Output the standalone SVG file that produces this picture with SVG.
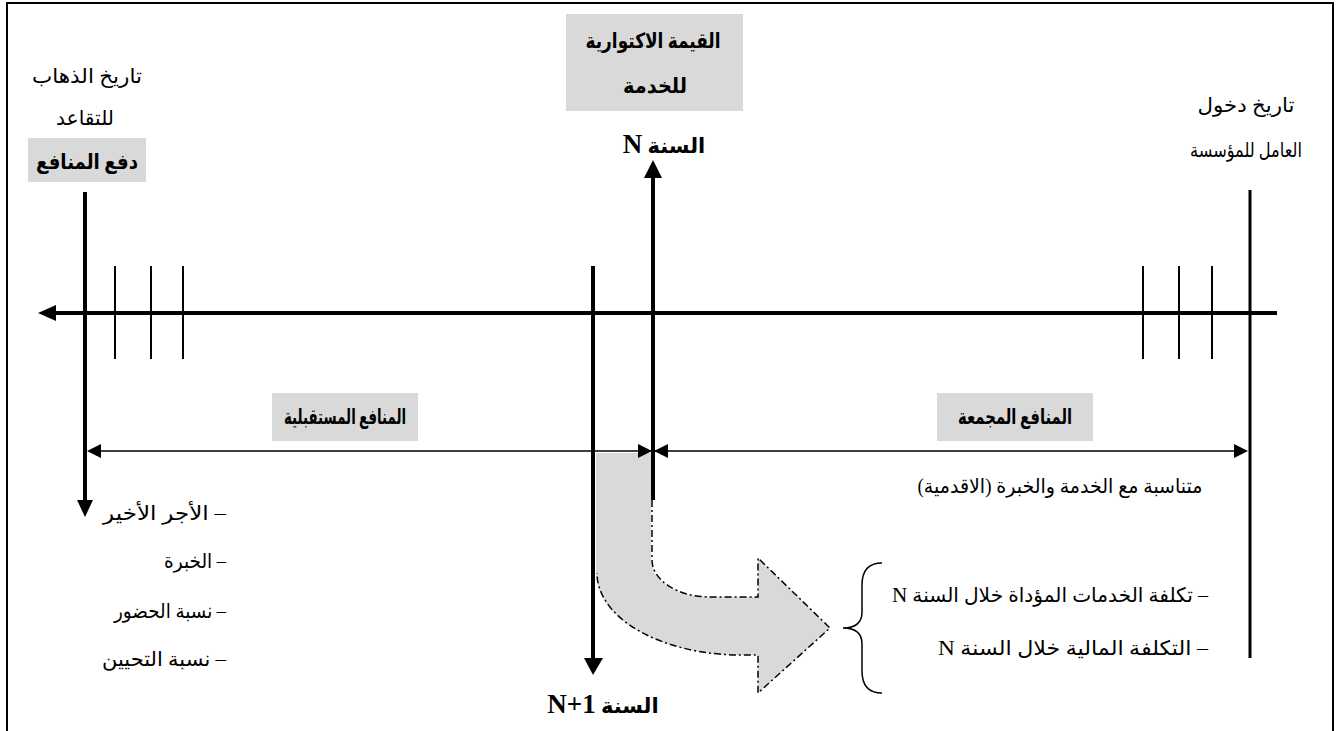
<svg xmlns="http://www.w3.org/2000/svg" width="1336" height="731" viewBox="0 0 1336 731">
<style>
text{font-family:"Liberation Serif","DejaVu Sans",serif;fill:#000}
.r{font-size:20px}
.b{font-size:21px;font-weight:bold}
.big{font-size:27px;font-weight:bold;font-family:"Liberation Serif",serif}
.n{font-size:21px;font-family:"Liberation Serif",serif}
.box{fill:#d9d9d9}
.thick{stroke:#000;stroke-width:4;fill:none}
.tick{stroke:#000;stroke-width:2;fill:none}
.dim{stroke:#000;stroke-width:1.6;fill:none}
.head{fill:#000}
.dd{stroke:#000;stroke-width:1.5;fill:none;stroke-dasharray:7 3 2 3}
</style>
<rect x="0" y="0" width="1336" height="731" fill="#fff"/>
<rect x="7" y="3" width="1326" height="740" fill="none" stroke="#000" stroke-width="2"/>

<g id="curved-arrow">
<path d="M596 453 L651 453 L651 560 A59 37 0 0 0 710 597 L758 597 L758 558 L830 628 L758 693 L758 655 L740 655 A144 82 0 0 1 596 573 Z" fill="#d9d9d9"/>
<path class="dd" d="M652 500 L652 560 A58 37 0 0 0 710 597 L758 597 L758 558 L830 628 L758 693 L758 655 L740 655 A144 82 0 0 1 597 573"/>
</g>

<g id="connectors">
<line class="thick" x1="52" y1="313" x2="1277" y2="313"/>
<polygon class="head" points="38,313 56,305 56,321"/>
<line class="tick" x1="115" y1="266" x2="115" y2="359"/>
<line class="tick" x1="151" y1="266" x2="151" y2="359"/>
<line class="tick" x1="183" y1="266" x2="183" y2="359"/>
<line class="tick" x1="1143" y1="266" x2="1143" y2="359"/>
<line class="tick" x1="1179" y1="266" x2="1179" y2="359"/>
<line class="tick" x1="1212" y1="266" x2="1212" y2="359"/>
<line class="thick" x1="85" y1="192" x2="85" y2="502"/>
<polygon class="head" points="85,517 77,500 93,500"/>
<line x1="1250" y1="190" x2="1250" y2="658" stroke="#000" stroke-width="3"/>
<line class="thick" x1="593" y1="266" x2="593" y2="660"/>
<polygon class="head" points="593,675 584,658 603,658"/>
<line class="thick" x1="653" y1="176" x2="653" y2="500"/>
<polygon class="head" points="653,160 644,178 662,178"/>
<line class="dim" x1="95" y1="451" x2="1240" y2="451"/>
<polygon class="head" points="87,451 101,444 101,458"/>
<polygon class="head" points="652,451 638,444 638,458"/>
<polygon class="head" points="654,451 668,444 668,458"/>
<polygon class="head" points="1248,451 1234,444 1234,458"/>
<path d="M882 563 Q862 563 862 585 L862 612 Q862 628 843 628 Q862 628 862 644 L862 671 Q862 693 882 693" fill="none" stroke="#000" stroke-width="1.5"/>
</g>

<g id="node-retirement">
<text class="r" x="87" y="83" text-anchor="middle" textLength="110" lengthAdjust="spacingAndGlyphs">تاريخ الذهاب</text>
<text class="r" x="85" y="125" text-anchor="middle" textLength="58" lengthAdjust="spacingAndGlyphs">للتقاعد</text>
<rect class="box" x="28" y="138" width="118" height="44"/>
<text class="b" x="87" y="169" text-anchor="middle" textLength="102" lengthAdjust="spacingAndGlyphs">دفع المنافع</text>
</g>

<g id="node-actuarial">
<rect class="box" x="566" y="14" width="177" height="97"/>
<text class="b" x="653" y="48" text-anchor="middle" textLength="135" lengthAdjust="spacingAndGlyphs">القيمة الاكتوارية</text>
<text class="b" x="655" y="93" text-anchor="middle" textLength="64" lengthAdjust="spacingAndGlyphs">للخدمة</text>
<text class="b" x="664" y="153" text-anchor="middle" direction="rtl">السنة <tspan class="big">N</tspan></text>
</g>

<g id="node-entry">
<text class="r" x="1246" y="112" text-anchor="middle" textLength="97" lengthAdjust="spacingAndGlyphs">تاريخ دخول</text>
<text class="r" x="1246" y="157" text-anchor="middle" textLength="112" lengthAdjust="spacingAndGlyphs">العامل للمؤسسة</text>
</g>

<g id="node-future">
<rect class="box" x="272" y="393" width="146" height="48"/>
<text class="b" x="345" y="424" text-anchor="middle" textLength="122" lengthAdjust="spacingAndGlyphs">المنافع المستقبلية</text>
</g>

<g id="node-accumulated">
<rect class="box" x="937" y="393" width="156" height="48"/>
<text class="b" x="1015" y="424" text-anchor="middle" textLength="114" lengthAdjust="spacingAndGlyphs">المنافع المجمعة</text>
</g>

<g id="node-proportional">
<text class="r" x="1060" y="493" text-anchor="middle" direction="rtl" textLength="285" lengthAdjust="spacingAndGlyphs">متناسبة مع الخدمة والخبرة (الاقدمية)</text>
</g>

<g id="node-factors">
<text class="r" x="226" y="520" direction="rtl" textLength="123" lengthAdjust="spacingAndGlyphs">– الأجر الأخير</text>
<text class="r" x="226" y="568" direction="rtl" textLength="62" lengthAdjust="spacingAndGlyphs">– الخبرة</text>
<text class="r" x="226" y="618" direction="rtl" textLength="112" lengthAdjust="spacingAndGlyphs">– نسبة الحضور</text>
<text class="r" x="226" y="666" direction="rtl" textLength="124" lengthAdjust="spacingAndGlyphs">– نسبة التحيين</text>
</g>

<g id="node-costs">
<text class="r" x="1208" y="602" direction="rtl" textLength="316" lengthAdjust="spacingAndGlyphs">– تكلفة الخدمات المؤداة خلال السنة <tspan class="n">N</tspan></text>
<text class="r" x="1208" y="655" direction="rtl" textLength="270" lengthAdjust="spacingAndGlyphs">– التكلفة المالية خلال السنة <tspan class="n">N</tspan></text>
</g>

<g id="node-next-year">
<text class="b" x="603" y="713" text-anchor="middle" direction="rtl">السنة <tspan class="big">N+1</tspan></text>
</g>
</svg>
